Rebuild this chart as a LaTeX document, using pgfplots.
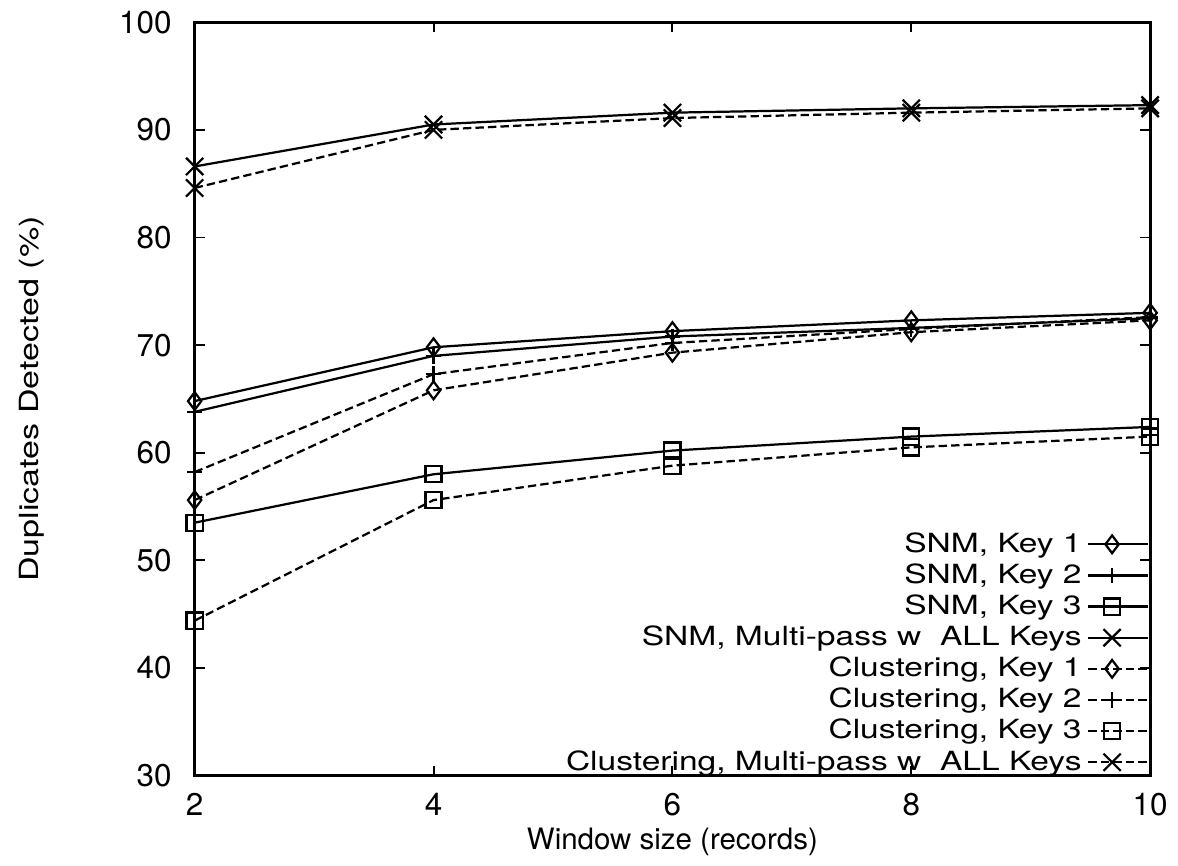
\documentclass[border=0pt]{standalone}
\usepackage{fontspec}
\setmainfont{TeX Gyre Heros}
\newfontfamily\legfont[FakeStretch=1.27]{TeX Gyre Heros}
\newfontfamily\ylabfont[FakeStretch=1.29]{TeX Gyre Heros}
\usepackage{pgfplots}
\pgfplotsset{compat=1.18}
\begin{document}
\begin{tikzpicture}[x=1pt,y=1pt]
\begin{axis}[
  scale only axis,
  width=343.6pt, height=270.9pt,
  xmin=2, xmax=10, ymin=30, ymax=100,
  xtick={2,4,6,8,10}, ytick={30,40,...,100},
  tick align=inside, tick pos=both,
  major tick length=3.6pt,
  axis line style={line width=1pt},
  every tick/.style={black, line width=0.7pt},
  /pgf/number format/assume math mode=true,
  tick label style={font=\fontsize{11.3}{13}\selectfont},
  yticklabel style={xshift=-4.8pt},
  xticklabel style={yshift=-2.8pt},
  xlabel={Window size (records)},
  ylabel={Duplicates Detected (\%)},
  every axis x label/.style={at={(axis description cs:0.5,0)}, anchor=center, yshift=-24pt, font=\fontsize{10.6}{12}\selectfont},
  every axis y label/.style={at={(axis description cs:0,0.5)}, anchor=center, rotate=90, yshift=58.5pt, font=\ylabfont\fontsize{9.5}{11}\selectfont},
  legend plot pos=right,
  legend style={draw=none, fill=none, at={(1,0)}, anchor=south east, yshift=-2.7pt,
    font=\legfont\fontsize{9.5}{11}\selectfont, row sep=-1.4pt,
    inner xsep=0pt, inner ysep=1pt},
  legend cell align=right,
  legend image code/.code={\draw[mark repeat=2,mark phase=2] plot coordinates {(0cm,0cm) (0.3cm,0cm) (0.76cm,0cm)};},
  every axis plot/.append style={black, line width=0.8pt},
]
\addplot[solid, mark=diamond, mark size=3.2pt, mark options={solid}] coordinates {(2,64.8) (4,69.8) (6,71.3) (8,72.3) (10,73.0)};
\addlegendentry{SNM, Key 1}
\addplot[solid, mark=+, mark size=2.8pt, mark options={solid}] coordinates {(2,63.8) (4,69.0) (6,70.8) (8,71.6) (10,72.5)};
\addlegendentry{SNM, Key 2}
\addplot[solid, mark=square, mark size=2.9pt, mark options={solid}] coordinates {(2,53.5) (4,58.0) (6,60.2) (8,61.5) (10,62.4)};
\addlegendentry{SNM, Key 3}
\addplot[solid, mark=x, mark size=4.4pt, mark options={solid}] coordinates {(2,86.6) (4,90.5) (6,91.6) (8,92.0) (10,92.3)};
\addlegendentry{SNM, Multi-pass w\ \ ALL Keys}
\addplot[dash pattern=on 3pt off 1.5pt, mark=diamond, mark size=3.2pt, mark options={solid}] coordinates {(2,55.6) (4,65.8) (6,69.3) (8,71.2) (10,72.3)};
\addlegendentry{Clustering, Key 1}
\addplot[dash pattern=on 3pt off 1.5pt, mark=+, mark size=2.8pt, mark options={solid}] coordinates {(2,58.2) (4,67.3) (6,70.2) (8,71.5) (10,72.6)};
\addlegendentry{Clustering, Key 2}
\addplot[dash pattern=on 3pt off 1.5pt, mark=square, mark size=2.9pt, mark options={solid}] coordinates {(2,44.4) (4,55.6) (6,58.8) (8,60.5) (10,61.5)};
\addlegendentry{Clustering, Key 3}
\addplot[dash pattern=on 3pt off 1.5pt, mark=x, mark size=4.4pt, mark options={solid}] coordinates {(2,84.6) (4,90.0) (6,91.1) (8,91.6) (10,92.0)};
\addlegendentry{Clustering, Multi-pass w\ \ ALL Keys}
\end{axis}
\path (-70pt,-30pt) rectangle (353.6pt,278.9pt);
\end{tikzpicture}
\end{document}
